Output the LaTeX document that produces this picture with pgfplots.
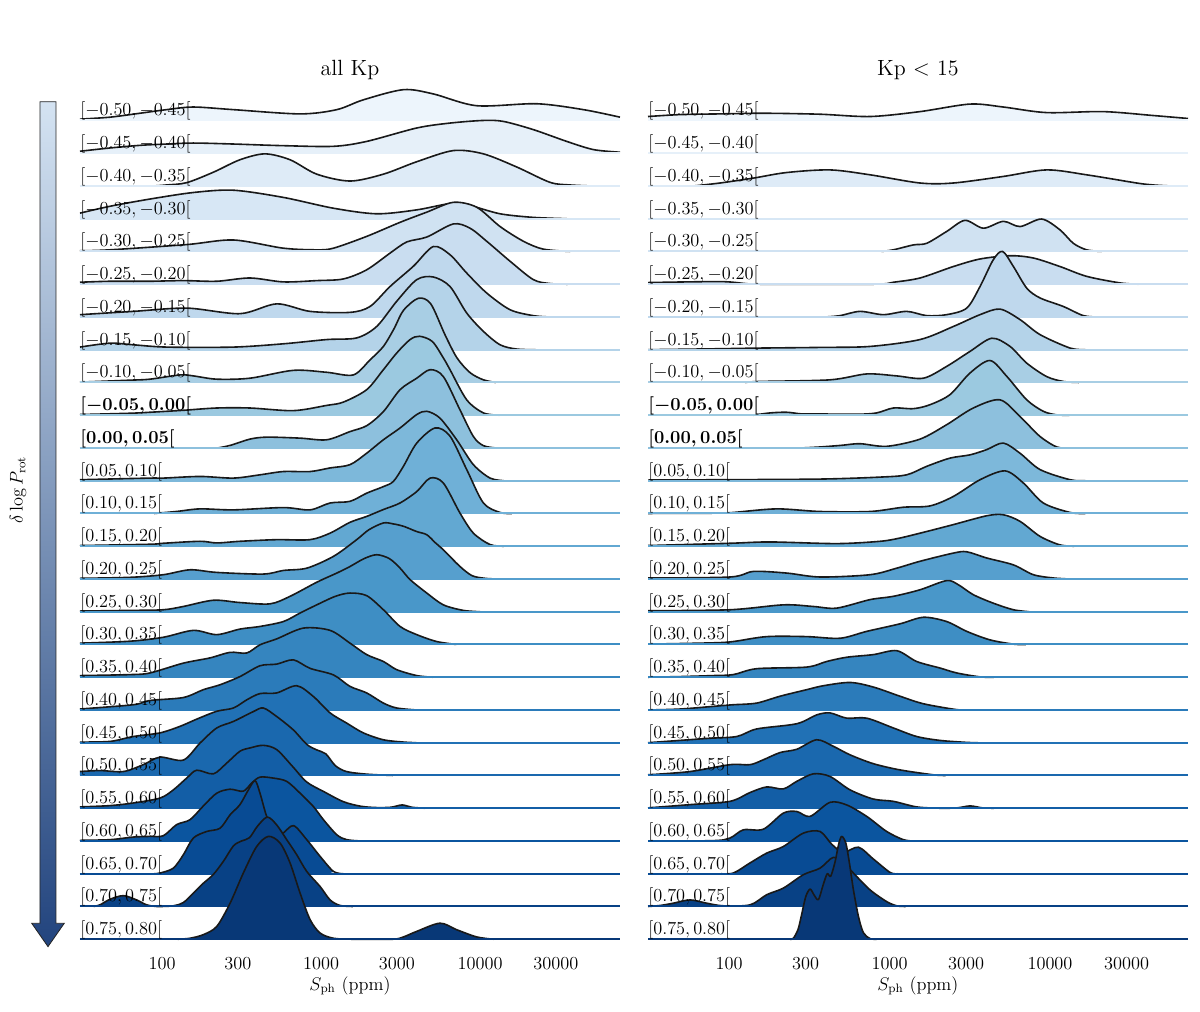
\documentclass[border=0pt]{standalone}
\usepackage{pgfplots}
\pgfplotsset{compat=1.18}

% Blues colour map anchors
\definecolor{B0}{HTML}{F7FBFF}
\definecolor{B1}{HTML}{DEEBF7}
\definecolor{B2}{HTML}{C6DBEF}
\definecolor{B3}{HTML}{9ECAE1}
\definecolor{B4}{HTML}{6BAED6}
\definecolor{B5}{HTML}{4292C6}
\definecolor{B6}{HTML}{2171B5}
\definecolor{B7}{HTML}{08519C}
\definecolor{B8}{HTML}{08306B}
\colorlet{r0}{B1!40!B0}  \colorlet{r1}{B1!69!B0}  \colorlet{r2}{B1!99!B0}
\colorlet{r3}{B2!28!B1}  \colorlet{r4}{B2!58!B1}  \colorlet{r5}{B2!87!B1}
\colorlet{r6}{B3!17!B2}  \colorlet{r7}{B3!46!B2}  \colorlet{r8}{B3!76!B2}
\colorlet{r9}{B4!5!B3}   \colorlet{r10}{B4!34!B3} \colorlet{r11}{B4!64!B3}
\colorlet{r12}{B4!93!B3} \colorlet{r13}{B5!23!B4} \colorlet{r14}{B5!52!B4}
\colorlet{r15}{B5!82!B4} \colorlet{r16}{B6!11!B5} \colorlet{r17}{B6!40!B5}
\colorlet{r18}{B6!70!B5} \colorlet{r19}{B6!99!B5} \colorlet{r20}{B7!29!B6}
\colorlet{r21}{B7!58!B6} \colorlet{r22}{B7!88!B6} \colorlet{r23}{B8!17!B7}
\colorlet{r24}{B8!47!B7} \colorlet{r25}{B8!76!B7}
\definecolor{arrTop}{HTML}{D4E3F2}
\definecolor{arrMid}{HTML}{7F9EC8}
\definecolor{arrBot}{HTML}{22447E}

\newcommand\lblfont{\fontsize{12}{14.4}\selectfont}
\newcommand\ttlfont{\fontsize{14.4}{17}\selectfont}

\newcommand\rowlabel[1]{\ifcase#1 $[-0.50, -0.45[$\or $[-0.45, -0.40[$\or
 $[-0.40, -0.35[$\or $[-0.35, -0.30[$\or $[-0.30, -0.25[$\or $[-0.25, -0.20[$\or
 $[-0.20, -0.15[$\or $[-0.15, -0.10[$\or $[-0.10, -0.05[$\or
 {\boldmath$[-0.05, 0.00[$}\or {\boldmath$[0.00, 0.05[$}\or
 $[0.05, 0.10[$\or $[0.10, 0.15[$\or $[0.15, 0.20[$\or $[0.20, 0.25[$\or
 $[0.25, 0.30[$\or $[0.30, 0.35[$\or $[0.35, 0.40[$\or $[0.40, 0.45[$\or
 $[0.45, 0.50[$\or $[0.50, 0.55[$\or $[0.55, 0.60[$\or $[0.60, 0.65[$\or
 $[0.65, 0.70[$\or $[0.70, 0.75[$\or $[0.75, 0.80[$\fi}

% one ridge: row index, outline range (from, to), table (x = log10 S_ph, h = height in row units)
\newcommand{\ridge}[4]{%
  \addplot[draw=none, fill=r#1, smooth] table[row sep=\\, y expr=\thisrow{h}-#1] {#4}
    -- (axis cs:\xR,-#1) -- (axis cs:\xL,-#1) -- cycle;
  \addplot[black!90, line width=1.05pt, line join=round, smooth, restrict x to domain=#2:#3]
    table[row sep=\\, y expr=\thisrow{h}-#1] {#4};
  \addplot[color=r#1, line width=1.3pt] coordinates {(\xL,-#1) (\xR,-#1)};
  \node[anchor=base west, inner sep=0pt, font=\lblfont] at (axis cs:\xL,-#1+0.14) {\rowlabel{#1}};
}

\pgfplotsset{ridge axis/.style={
  scale only axis, width=353.45pt, height=559.5pt, clip=false,
  anchor=south west, ymin=-25.1, ymax=1.0,
  axis line style={draw=none}, major tick length=0pt, ytick=\empty,
  xtick={2,2.4771,3,3.4771,4,4.4771},
  xticklabels={100,300,1000,3000,10000,30000},
  xticklabel style={anchor=base, yshift=-17.67pt, font=\lblfont},
}}

\begin{document}
\begin{tikzpicture}
\useasboundingbox (0,0) rectangle (785.45pt,-661.75pt);

\shadedraw[top color=arrTop, middle color=arrMid, bottom color=arrBot, draw=black!85, line width=0.55pt]
  (26.18pt,-66.56pt) -- (36.65pt,-66.56pt) -- (36.65pt,-604.3pt) -- (42.08pt,-604.3pt)
  -- (31.42pt,-619.6pt) -- (20.75pt,-604.3pt) -- (26.18pt,-604.3pt) -- cycle;
\node[rotate=90, font=\lblfont] at (11.8pt,-320.7pt) {$\delta\log P_{\mathrm{rot}}$};

% ---------------- all Kp ----------------
\def\xL{1.484}\def\xR{4.88}
\begin{axis}[ridge axis, at={(52.36pt,-616.9pt)}, xmin=1.484, xmax=4.88]
\ridge{0}{1.484}{4.88}{x h\\ 1.484 0.04\\ 1.673 0.10\\ 1.861 0.22\\ 2.029 0.33\\ 2.197 0.41\\ 2.449 0.33\\ 2.868 0.20\\ 3.099 0.33\\ 3.266 0.63\\ 3.518 0.94\\ 3.706 0.81\\ 3.979 0.45\\ 4.356 0.51\\ 4.650 0.33\\ 4.880 0.10\\}
\ridge{1}{1.484}{4.88}{x h\\ 1.484 0.06\\ 1.673 0.16\\ 1.861 0.24\\ 2.029 0.28\\ 2.197 0.31\\ 2.449 0.28\\ 2.763 0.23\\ 3.078 0.21\\ 3.287 0.36\\ 3.602 0.77\\ 3.811 0.92\\ 4.021 1.00\\ 4.147 0.97\\ 4.335 0.72\\ 4.545 0.36\\ 4.713 0.11\\ 4.880 0.03\\}
\ridge{2}{1.95}{4.70}{x h\\ 1.484 0\\ 1.950 0\\ 2.029 0.03\\ 2.155 0.10\\ 2.323 0.42\\ 2.490 0.80\\ 2.647 0.98\\ 2.805 0.80\\ 2.973 0.36\\ 3.182 0.15\\ 3.392 0.36\\ 3.602 0.74\\ 3.832 1.08\\ 4.021 0.98\\ 4.230 0.58\\ 4.440 0.11\\ 4.566 0.03\\ 4.700 0\\ 4.880 0\\}
\ridge{3}{1.484}{4.545}{x h\\ 1.484 0.17\\ 1.673 0.38\\ 1.924 0.60\\ 2.197 0.80\\ 2.449 0.87\\ 2.763 0.65\\ 3.078 0.32\\ 3.350 0.15\\ 3.602 0.27\\ 3.811 0.46\\ 3.937 0.40\\ 4.126 0.15\\ 4.335 0.04\\ 4.545 0\\ 4.880 0\\}
\ridge{4}{1.484}{4.566}{x h\\ 1.484 0.02\\ 1.673 0.05\\ 2.155 0.21\\ 2.448 0.35\\ 2.763 0.10\\ 2.973 0.05\\ 3.078 0.10\\ 3.287 0.46\\ 3.497 0.89\\ 3.665 1.20\\ 3.832 1.50\\ 3.979 1.35\\ 4.126 0.76\\ 4.273 0.31\\ 4.398 0.07\\ 4.566 0\\ 4.880 0\\}
\ridge{5}{1.484}{4.55}{x h\\ 1.484 0.06\\ 1.673 0.09\\ 1.924 0.09\\ 2.134 0.11\\ 2.344 0.09\\ 2.553 0.19\\ 2.763 0.07\\ 2.973 0.11\\ 3.140 0.16\\ 3.287 0.44\\ 3.434 0.95\\ 3.539 1.29\\ 3.665 1.44\\ 3.832 1.84\\ 3.937 1.71\\ 4.042 1.31\\ 4.189 0.70\\ 4.335 0.14\\ 4.440 0.02\\ 4.550 0\\ 4.880 0\\}
\ridge{6}{1.484}{4.44}{x h\\ 1.484 0.07\\ 1.819 0.17\\ 2.155 0.27\\ 2.490 0.10\\ 2.721 0.40\\ 2.931 0.17\\ 3.182 0.14\\ 3.308 0.32\\ 3.434 0.93\\ 3.581 1.55\\ 3.706 2.15\\ 3.811 1.90\\ 3.916 1.34\\ 4.042 0.73\\ 4.189 0.22\\ 4.335 0.04\\ 4.440 0\\ 4.880 0\\}
\ridge{7}{1.484}{4.35}{x h\\ 1.484 0.08\\ 1.673 0.20\\ 1.819 0.15\\ 2.029 0.08\\ 2.449 0.08\\ 2.763 0.18\\ 3.036 0.31\\ 3.224 0.36\\ 3.350 0.71\\ 3.476 1.48\\ 3.602 2.14\\ 3.706 2.22\\ 3.811 1.93\\ 3.916 1.12\\ 4.021 0.56\\ 4.126 0.15\\ 4.230 0.02\\ 4.350 0\\ 4.880 0\\}
\ridge{8}{1.484}{4.10}{x h\\ 1.484 0.01\\ 1.800 0.07\\ 1.924 0.10\\ 2.113 0.23\\ 2.197 0.20\\ 2.344 0.10\\ 2.553 0.13\\ 2.826 0.37\\ 3.036 0.31\\ 3.203 0.23\\ 3.308 0.69\\ 3.392 1.10\\ 3.460 1.65\\ 3.518 2.20\\ 3.612 2.57\\ 3.690 2.40\\ 3.780 1.45\\ 3.855 0.75\\ 3.937 0.30\\ 4.021 0.08\\ 4.100 0\\ 4.880 0\\}
\ridge{9}{1.484}{4.12}{x h\\ 1.484 0.02\\ 1.800 0.06\\ 1.924 0.09\\ 2.134 0.15\\ 2.344 0.22\\ 2.553 0.22\\ 2.826 0.14\\ 3.036 0.30\\ 3.140 0.40\\ 3.287 0.78\\ 3.392 1.39\\ 3.476 1.90\\ 3.560 2.31\\ 3.620 2.41\\ 3.700 2.25\\ 3.769 1.75\\ 3.811 1.39\\ 3.916 0.47\\ 4.021 0.07\\ 4.120 0\\ 4.880 0\\}
\ridge{10}{2.35}{4.10}{x h\\ 1.484 0\\ 2.350 0\\ 2.430 0.08\\ 2.553 0.27\\ 2.658 0.33\\ 2.868 0.30\\ 3.036 0.25\\ 3.182 0.50\\ 3.287 0.68\\ 3.392 1.11\\ 3.497 1.78\\ 3.602 2.13\\ 3.686 2.39\\ 3.769 2.18\\ 3.874 1.16\\ 3.958 0.35\\ 4.021 0.07\\ 4.100 0\\ 4.880 0\\}
\ridge{11}{1.484}{4.15}{x h\\ 1.484 0.03\\ 1.924 0.08\\ 2.009 0.08\\ 2.239 0.13\\ 2.449 0.08\\ 2.616 0.18\\ 2.763 0.28\\ 2.931 0.28\\ 3.057 0.39\\ 3.182 0.49\\ 3.287 0.84\\ 3.392 1.25\\ 3.497 1.61\\ 3.602 2.02\\ 3.665 2.12\\ 3.748 1.91\\ 3.853 1.25\\ 3.958 0.49\\ 4.063 0.08\\ 4.150 0\\ 4.880 0\\}
\ridge{12}{1.95}{4.20}{x h\\ 1.484 0\\ 1.950 0\\ 2.090 0.06\\ 2.239 0.14\\ 2.449 0.11\\ 2.763 0.18\\ 2.931 0.11\\ 3.057 0.32\\ 3.182 0.37\\ 3.287 0.62\\ 3.392 0.82\\ 3.455 0.98\\ 3.518 1.44\\ 3.602 2.15\\ 3.717 2.61\\ 3.811 2.36\\ 3.916 1.34\\ 4.021 0.32\\ 4.126 0.03\\ 4.200 0\\ 4.880 0\\}
\ridge{13}{1.484}{4.15}{x h\\ 1.484 0.02\\ 1.924 0.06\\ 2.009 0.09\\ 2.239 0.15\\ 2.344 0.10\\ 2.490 0.15\\ 2.720 0.20\\ 2.930 0.20\\ 3.057 0.40\\ 3.182 0.73\\ 3.287 0.91\\ 3.392 1.12\\ 3.497 1.32\\ 3.602 1.67\\ 3.686 2.08\\ 3.769 1.93\\ 3.874 1.01\\ 3.958 0.40\\ 4.063 0.05\\ 4.150 0\\ 4.880 0\\}
\ridge{14}{1.484}{4.10}{x h\\ 1.484 0.02\\ 1.800 0.05\\ 2.008 0.13\\ 2.176 0.28\\ 2.344 0.20\\ 2.637 0.15\\ 2.763 0.26\\ 2.910 0.33\\ 3.078 0.69\\ 3.224 1.20\\ 3.300 1.50\\ 3.392 1.71\\ 3.455 1.68\\ 3.518 1.61\\ 3.600 1.45\\ 3.665 1.35\\ 3.720 1.10\\ 3.769 0.89\\ 3.874 0.38\\ 3.950 0.10\\ 4.030 0.02\\ 4.100 0\\ 4.880 0\\}
\ridge{15}{1.484}{4.00}{x h\\ 1.484 0.02\\ 1.800 0.04\\ 2.008 0.06\\ 2.134 0.16\\ 2.323 0.35\\ 2.490 0.28\\ 2.679 0.24\\ 2.805 0.47\\ 2.973 0.90\\ 3.099 1.18\\ 3.182 1.38\\ 3.270 1.62\\ 3.350 1.74\\ 3.430 1.62\\ 3.497 1.33\\ 3.560 0.98\\ 3.665 0.57\\ 3.769 0.21\\ 3.895 0.04\\ 4.000 0\\ 4.880 0\\}
\ridge{16}{1.484}{3.85}{x h\\ 1.484 0.04\\ 1.800 0.10\\ 2.008 0.22\\ 2.197 0.43\\ 2.344 0.30\\ 2.490 0.47\\ 2.616 0.55\\ 2.763 0.70\\ 2.868 0.96\\ 2.973 1.21\\ 3.090 1.47\\ 3.182 1.57\\ 3.287 1.49\\ 3.392 1.06\\ 3.497 0.55\\ 3.602 0.30\\ 3.727 0.09\\ 3.850 0\\ 4.880 0\\}
\ridge{17}{1.484}{3.70}{x h\\ 1.484 0.05\\ 1.800 0.08\\ 1.924 0.13\\ 2.134 0.43\\ 2.302 0.59\\ 2.428 0.76\\ 2.533 0.74\\ 2.616 0.99\\ 2.721 1.17\\ 2.889 1.50\\ 3.057 1.43\\ 3.182 1.04\\ 3.287 0.69\\ 3.392 0.48\\ 3.476 0.23\\ 3.602 0.05\\ 3.700 0\\ 4.880 0\\}
\ridge{18}{1.484}{3.60}{x h\\ 1.484 0.03\\ 1.820 0.16\\ 1.924 0.29\\ 2.134 0.38\\ 2.260 0.62\\ 2.365 0.77\\ 2.490 1.02\\ 2.616 1.35\\ 2.721 1.40\\ 2.826 1.53\\ 2.931 1.27\\ 3.078 1.07\\ 3.182 0.72\\ 3.287 0.52\\ 3.392 0.21\\ 3.476 0.06\\ 3.600 0\\ 4.880 0\\}
\ridge{19}{1.484}{3.60}{x h\\ 1.484 0.02\\ 1.673 0.04\\ 1.820 0.19\\ 1.987 0.30\\ 2.113 0.50\\ 2.218 0.72\\ 2.344 0.96\\ 2.449 1.06\\ 2.533 1.31\\ 2.616 1.50\\ 2.721 1.52\\ 2.847 1.74\\ 2.952 1.41\\ 3.057 0.91\\ 3.161 0.60\\ 3.266 0.30\\ 3.392 0.09\\ 3.518 0.02\\ 3.600 0\\ 4.880 0\\}
\ridge{20}{1.484}{3.45}{x h\\ 1.484 0.12\\ 1.610 0.15\\ 1.757 0.12\\ 1.882 0.33\\ 1.987 0.56\\ 2.134 0.47\\ 2.239 0.99\\ 2.344 1.45\\ 2.449 1.65\\ 2.574 1.95\\ 2.637 2.06\\ 2.721 1.80\\ 2.826 1.39\\ 2.910 0.95\\ 2.973 0.78\\ 3.030 0.66\\ 3.090 0.30\\ 3.160 0.12\\ 3.287 0.04\\ 3.450 0\\ 4.880 0\\}
\ridge{21}{1.484}{3.65}{x h\\ 1.484 0.04\\ 1.673 0.08\\ 1.820 0.16\\ 1.987 0.31\\ 2.071 0.56\\ 2.155 0.92\\ 2.218 1.16\\ 2.323 1.05\\ 2.407 1.38\\ 2.490 1.74\\ 2.553 1.84\\ 2.637 1.92\\ 2.721 1.79\\ 2.820 1.28\\ 2.910 0.80\\ 3.020 0.50\\ 3.140 0.20\\ 3.250 0.06\\ 3.350 0.02\\ 3.440 0.03\\ 3.510 0.10\\ 3.570 0.03\\ 3.650 0\\ 4.880 0\\}
\ridge{22}{1.484}{3.25}{x h\\ 1.484 0.02\\ 1.673 0.04\\ 1.820 0.12\\ 1.924 0.14\\ 2.008 0.16\\ 2.092 0.50\\ 2.176 0.65\\ 2.260 1.07\\ 2.344 1.46\\ 2.428 1.58\\ 2.511 1.52\\ 2.564 1.77\\ 2.616 1.95\\ 2.700 1.92\\ 2.784 1.82\\ 2.868 1.46\\ 2.952 1.05\\ 3.015 0.65\\ 3.099 0.19\\ 3.161 0.04\\ 3.250 0\\ 4.880 0\\}
\ridge{23}{1.95}{3.14}{x h\\ 1.484 0\\ 1.950 0\\ 1.987 0.02\\ 2.071 0.17\\ 2.134 0.58\\ 2.197 1.09\\ 2.281 1.29\\ 2.365 1.39\\ 2.428 1.80\\ 2.490 2.11\\ 2.543 2.56\\ 2.585 2.84\\ 2.616 2.46\\ 2.658 1.75\\ 2.700 1.40\\ 2.753 1.22\\ 2.826 1.47\\ 2.910 1.04\\ 2.994 0.53\\ 3.078 0.07\\ 3.140 0\\ 4.880 0\\}
\ridge{24}{1.57}{3.20}{x h\\ 1.484 0\\ 1.570 0\\ 1.610 0.05\\ 1.673 0.22\\ 1.757 0.33\\ 1.840 0.20\\ 1.903 0.05\\ 1.966 0\\ 2.071 0.02\\ 2.134 0.12\\ 2.197 0.41\\ 2.260 0.71\\ 2.323 0.98\\ 2.386 1.38\\ 2.449 1.85\\ 2.500 2.00\\ 2.550 2.10\\ 2.600 2.45\\ 2.662 2.73\\ 2.721 2.49\\ 2.784 2.04\\ 2.847 1.58\\ 2.910 1.07\\ 2.994 0.61\\ 3.057 0.20\\ 3.120 0.03\\ 3.200 0\\ 4.880 0\\}
\ridge{25}{2.10}{4.084}{x h\\ 1.484 0\\ 2.100 0\\ 2.176 0.03\\ 2.260 0.14\\ 2.344 0.39\\ 2.428 1.10\\ 2.511 2.02\\ 2.595 2.83\\ 2.669 3.14\\ 2.742 2.94\\ 2.805 2.33\\ 2.868 1.41\\ 2.931 0.60\\ 2.994 0.19\\ 3.078 0.03\\ 3.200 0\\ 3.450 0\\ 3.518 0.07\\ 3.602 0.24\\ 3.748 0.49\\ 3.853 0.29\\ 3.979 0.07\\ 4.084 0\\ 4.880 0\\}
\end{axis}

% ---------------- Kp < 15 ----------------
\def\xL{1.495}\def\xR{4.86}
\begin{axis}[ridge axis, at={(424.15pt,-616.9pt)}, xmin=1.495, xmax=4.86]
\ridge{0}{1.495}{4.86}{x h\\ 1.495 0.12\\ 1.700 0.18\\ 1.944 0.20\\ 2.214 0.22\\ 2.567 0.19\\ 2.879 0.12\\ 3.190 0.27\\ 3.502 0.50\\ 3.709 0.41\\ 3.979 0.24\\ 4.332 0.27\\ 4.644 0.15\\ 4.860 0.06\\}
\ridge{1}{1.495}{4.86}{x h\\ 1.495 0\\ 4.860 0\\}
\ridge{2}{1.78}{4.75}{x h\\ 1.495 0\\ 1.780 0\\ 1.944 0.09\\ 2.152 0.24\\ 2.359 0.41\\ 2.629 0.49\\ 2.879 0.34\\ 3.190 0.09\\ 3.398 0.09\\ 3.709 0.29\\ 3.979 0.49\\ 4.228 0.34\\ 4.540 0.09\\ 4.644 0.03\\ 4.750 0\\ 4.860 0\\}
\ridge{3}{1.495}{4.86}{x h\\ 1.495 0\\ 4.860 0\\}
\ridge{4}{2.95}{4.32}{x h\\ 1.495 0\\ 2.950 0\\ 3.024 0.05\\ 3.149 0.20\\ 3.232 0.25\\ 3.356 0.61\\ 3.470 0.95\\ 3.585 0.71\\ 3.709 0.92\\ 3.813 0.76\\ 3.948 0.99\\ 4.062 0.66\\ 4.145 0.25\\ 4.228 0.05\\ 4.320 0\\ 4.860 0\\}
\ridge{5}{1.495}{4.55}{x h\\ 1.495 0.05\\ 1.944 0.08\\ 2.100 0.02\\ 2.200 0\\ 2.900 0\\ 3.024 0.06\\ 3.190 0.19\\ 3.398 0.54\\ 3.564 0.77\\ 3.751 0.87\\ 3.896 0.80\\ 4.062 0.54\\ 4.228 0.24\\ 4.436 0.04\\ 4.550 0\\ 4.860 0\\}
\ridge{6}{2.60}{4.30}{x h\\ 1.495 0\\ 2.600 0\\ 2.692 0.04\\ 2.816 0.17\\ 2.962 0.07\\ 3.107 0.17\\ 3.232 0.04\\ 3.356 0.07\\ 3.481 0.27\\ 3.564 0.93\\ 3.647 1.75\\ 3.705 2.00\\ 3.772 1.54\\ 3.855 0.88\\ 3.938 0.58\\ 4.083 0.32\\ 4.208 0.04\\ 4.300 0\\ 4.860 0\\}
\ridge{7}{1.495}{4.22}{x h\\ 1.495 0\\ 1.944 0.03\\ 2.193 0.05\\ 2.567 0.07\\ 2.879 0.10\\ 3.190 0.31\\ 3.398 0.71\\ 3.564 1.07\\ 3.688 1.24\\ 3.813 0.92\\ 3.938 0.46\\ 4.125 0.05\\ 4.220 0\\ 4.860 0\\}
\ridge{8}{2.10}{4.18}{x h\\ 1.495 0\\ 2.100 0\\ 2.193 0.03\\ 2.629 0.08\\ 2.858 0.26\\ 3.045 0.20\\ 3.211 0.13\\ 3.356 0.49\\ 3.502 0.95\\ 3.637 1.35\\ 3.751 1.10\\ 3.855 0.59\\ 3.979 0.18\\ 4.083 0.03\\ 4.180 0\\ 4.860 0\\}
\ridge{9}{2.15}{4.12}{x h\\ 1.495 0\\ 2.150 0\\ 2.256 0.07\\ 2.359 0.09\\ 2.450 0.04\\ 2.525 0.04\\ 2.800 0.03\\ 2.920 0.07\\ 3.024 0.22\\ 3.149 0.20\\ 3.252 0.32\\ 3.377 0.63\\ 3.502 1.29\\ 3.626 1.67\\ 3.730 1.19\\ 3.855 0.47\\ 3.958 0.12\\ 4.042 0.01\\ 4.120 0\\ 4.860 0\\}
\ridge{10}{2.45}{4.12}{x h\\ 1.495 0\\ 2.450 0\\ 2.567 0.03\\ 2.700 0.08\\ 2.816 0.13\\ 2.982 0.05\\ 3.190 0.27\\ 3.356 0.71\\ 3.522 1.22\\ 3.688 1.47\\ 3.813 0.96\\ 3.938 0.35\\ 4.042 0.03\\ 4.120 0\\ 4.860 0\\}
\ridge{11}{1.495}{4.22}{x h\\ 1.495 0.02\\ 1.944 0.03\\ 2.567 0.05\\ 2.941 0.11\\ 3.107 0.18\\ 3.232 0.44\\ 3.377 0.69\\ 3.502 0.79\\ 3.606 0.95\\ 3.709 1.15\\ 3.813 0.84\\ 3.938 0.34\\ 4.125 0.03\\ 4.220 0\\ 4.860 0\\}
\ridge{12}{1.495}{4.22}{x h\\ 1.495 0\\ 1.944 0.01\\ 2.027 0.03\\ 2.297 0.14\\ 2.567 0.06\\ 2.879 0.06\\ 3.086 0.19\\ 3.252 0.23\\ 3.398 0.52\\ 3.564 1.03\\ 3.720 1.30\\ 3.834 0.93\\ 3.958 0.32\\ 4.125 0.03\\ 4.220 0\\ 4.860 0\\}
\ridge{13}{1.495}{4.15}{x h\\ 1.495 0.02\\ 2.006 0.09\\ 2.256 0.13\\ 2.671 0.08\\ 2.941 0.15\\ 3.065 0.25\\ 3.232 0.45\\ 3.398 0.66\\ 3.606 0.93\\ 3.709 0.96\\ 3.813 0.76\\ 3.938 0.30\\ 4.062 0.04\\ 4.150 0\\ 4.860 0\\}
\ridge{14}{1.495}{4.12}{x h\\ 1.495 0.03\\ 2.006 0.06\\ 2.152 0.23\\ 2.359 0.18\\ 2.567 0.06\\ 2.879 0.13\\ 3.045 0.33\\ 3.190 0.54\\ 3.398 0.79\\ 3.481 0.83\\ 3.606 0.64\\ 3.772 0.43\\ 3.896 0.13\\ 4.021 0.03\\ 4.120 0\\ 4.860 0\\}
\ridge{15}{1.495}{3.87}{x h\\ 1.495 0.03\\ 2.006 0.06\\ 2.339 0.21\\ 2.525 0.16\\ 2.671 0.11\\ 2.879 0.37\\ 3.024 0.47\\ 3.190 0.67\\ 3.356 0.95\\ 3.430 0.82\\ 3.522 0.52\\ 3.647 0.26\\ 3.772 0.06\\ 3.870 0\\ 4.860 0\\}
\ridge{16}{1.495}{3.85}{x h\\ 1.495 0.01\\ 1.900 0.05\\ 2.027 0.09\\ 2.235 0.24\\ 2.484 0.24\\ 2.692 0.19\\ 2.858 0.40\\ 3.065 0.63\\ 3.211 0.83\\ 3.356 0.70\\ 3.481 0.40\\ 3.626 0.14\\ 3.772 0.01\\ 3.850 0\\ 4.860 0\\}
\ridge{17}{1.495}{3.65}{x h\\ 1.495 0\\ 1.700 0.02\\ 1.900 0.05\\ 2.027 0.08\\ 2.172 0.26\\ 2.484 0.31\\ 2.608 0.48\\ 2.733 0.61\\ 2.899 0.69\\ 3.045 0.81\\ 3.169 0.48\\ 3.315 0.28\\ 3.419 0.13\\ 3.564 0.01\\ 3.650 0\\ 4.860 0\\}
\ridge{18}{1.495}{3.50}{x h\\ 1.495 0\\ 1.700 0.03\\ 1.950 0.13\\ 2.027 0.16\\ 2.172 0.21\\ 2.318 0.42\\ 2.484 0.62\\ 2.588 0.74\\ 2.754 0.84\\ 2.899 0.70\\ 3.065 0.42\\ 3.211 0.19\\ 3.418 0.01\\ 3.500 0\\ 4.860 0\\}
\ridge{19}{1.495}{3.55}{x h\\ 1.495 0\\ 1.861 0.13\\ 2.048 0.19\\ 2.172 0.42\\ 2.422 0.58\\ 2.546 0.85\\ 2.629 0.91\\ 2.733 0.75\\ 2.858 0.75\\ 3.024 0.45\\ 3.169 0.19\\ 3.315 0.07\\ 3.481 0.01\\ 3.550 0\\ 4.860 0\\}
\ridge{20}{1.495}{3.35}{x h\\ 1.495 0.02\\ 1.757 0.12\\ 2.006 0.33\\ 2.131 0.33\\ 2.214 0.48\\ 2.318 0.70\\ 2.422 0.80\\ 2.546 1.09\\ 2.650 0.89\\ 2.754 0.63\\ 2.899 0.36\\ 3.065 0.17\\ 3.273 0.02\\ 3.350 0\\ 4.860 0\\}
\ridge{21}{1.495}{3.65}{x h\\ 1.495 0.01\\ 1.757 0.11\\ 2.006 0.21\\ 2.131 0.48\\ 2.235 0.65\\ 2.338 0.59\\ 2.422 0.82\\ 2.525 1.05\\ 2.629 0.97\\ 2.754 0.56\\ 2.899 0.28\\ 3.024 0.21\\ 3.169 0.04\\ 3.315 0\\ 3.420 0.01\\ 3.502 0.07\\ 3.580 0.01\\ 3.650 0\\ 4.860 0\\}
\ridge{22}{1.495}{3.149}{x h\\ 1.495 0\\ 1.900 0.01\\ 2.006 0.09\\ 2.089 0.34\\ 2.214 0.36\\ 2.338 0.85\\ 2.422 0.90\\ 2.505 0.75\\ 2.629 1.18\\ 2.733 1.10\\ 2.858 0.75\\ 2.982 0.29\\ 3.086 0.04\\ 3.149 0\\ 4.860 0\\}
\ridge{23}{1.95}{3.05}{x h\\ 1.495 0\\ 1.950 0\\ 2.027 0.02\\ 2.131 0.33\\ 2.235 0.63\\ 2.338 0.83\\ 2.463 1.24\\ 2.567 1.29\\ 2.640 0.90\\ 2.712 0.65\\ 2.806 0.81\\ 2.899 0.45\\ 3.003 0.04\\ 3.050 0\\ 4.860 0\\}
\ridge{24}{1.495}{3.10}{x h\\ 1.495 0\\ 1.570 0.03\\ 1.653 0.10\\ 1.757 0.20\\ 1.861 0.10\\ 1.965 0.02\\ 2.131 0.05\\ 2.235 0.36\\ 2.338 0.56\\ 2.463 0.97\\ 2.567 1.17\\ 2.650 1.50\\ 2.720 1.30\\ 2.775 1.02\\ 2.878 0.51\\ 2.982 0.15\\ 3.045 0.02\\ 3.100 0\\ 4.860 0\\}
\ridge{25}{2.38}{2.92}{x h\\ 1.495 0\\ 2.380 0\\ 2.401 0.03\\ 2.430 0.30\\ 2.450 0.70\\ 2.478 1.30\\ 2.505 1.53\\ 2.530 1.35\\ 2.557 1.21\\ 2.587 1.67\\ 2.612 2.00\\ 2.633 1.92\\ 2.660 2.35\\ 2.683 2.90\\ 2.702 3.14\\ 2.728 2.93\\ 2.750 2.33\\ 2.775 1.51\\ 2.806 0.70\\ 2.837 0.20\\ 2.878 0.02\\ 2.920 0\\ 4.860 0\\}
\end{axis}

\node[anchor=base, font=\ttlfont] at (229.1pt,-49.1pt) {all Kp};
\node[anchor=base, font=\ttlfont] at (600.8pt,-49.1pt) {Kp $<$ 15};
\node[anchor=base, font=\lblfont] at (229.1pt,-648pt) {$S_{\mathrm{ph}}$ (ppm)};
\node[anchor=base, font=\lblfont] at (600.8pt,-648pt) {$S_{\mathrm{ph}}$ (ppm)};
\end{tikzpicture}
\end{document}
